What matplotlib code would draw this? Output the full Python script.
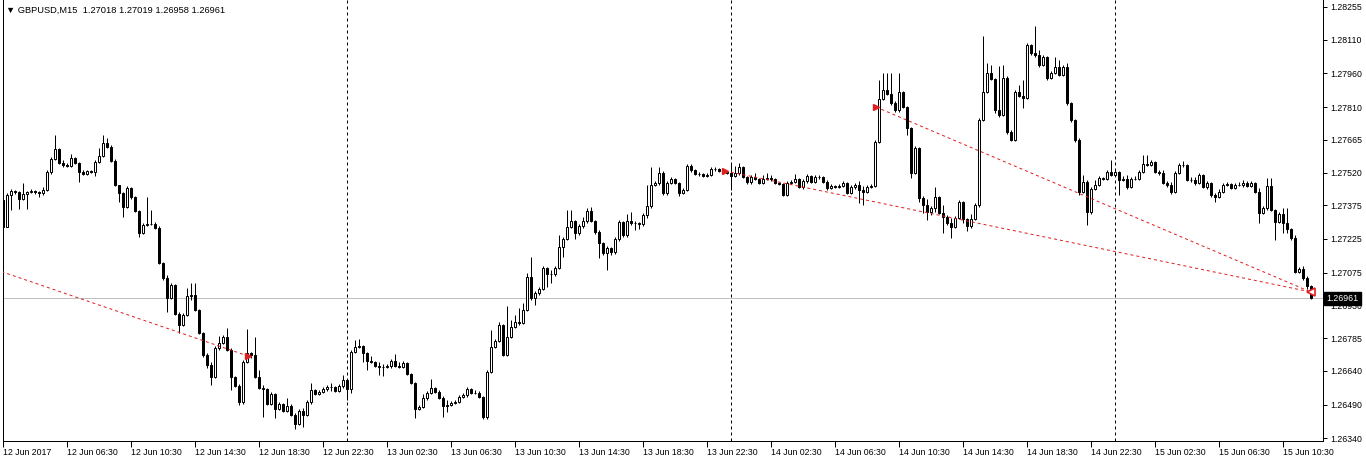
import matplotlib.pyplot as plt
import numpy as np

plt.rcParams['font.family'] = ['Liberation Sans', 'DejaVu Sans']

# GBPUSD M15, 12 Jun 2017 02:30 .. 15 Jun 2017 12:15
first_open = 1.27398
closes = [
    1.27278, 1.27420, 1.27438, 1.27433, 1.27402, 1.27424, 1.27433, 1.27438, 1.27433, 1.27429,
    1.27442, 1.27522, 1.27580, 1.27624, 1.27563, 1.27554, 1.27549, 1.27585, 1.27563, 1.27522,
    1.27513, 1.27527, 1.27522, 1.27567, 1.27594, 1.27651, 1.27633, 1.27571, 1.27465, 1.27429,
    1.27367, 1.27451, 1.27411, 1.27349, 1.27252, 1.27287, 1.27291, 1.27291, 1.27274, 1.27118,
    1.27052, 1.26963, 1.27021, 1.26892, 1.26843, 1.26887, 1.26972, 1.26976, 1.26910, 1.26808,
    1.26710, 1.26666, 1.26612, 1.26741, 1.26763, 1.26790, 1.26732, 1.26612, 1.26572, 1.26501,
    1.26679, 1.26719, 1.26710, 1.26612, 1.26563, 1.26559, 1.26492, 1.26537, 1.26470, 1.26492,
    1.26461, 1.26483, 1.26443, 1.26403, 1.26461, 1.26443, 1.26501, 1.26554, 1.26537, 1.26546,
    1.26559, 1.26568, 1.26568, 1.26550, 1.26572, 1.26599, 1.26559, 1.26723, 1.26745, 1.26750,
    1.26719, 1.26683, 1.26679, 1.26661, 1.26657, 1.26657, 1.26661, 1.26683, 1.26661, 1.26657,
    1.26674, 1.26626, 1.26586, 1.26470, 1.26479, 1.26519, 1.26541, 1.26563, 1.26546, 1.26519,
    1.26483, 1.26488, 1.26497, 1.26501, 1.26523, 1.26532, 1.26559, 1.26541, 1.26541, 1.26523,
    1.26435, 1.26635, 1.26745, 1.26772, 1.26843, 1.26710, 1.26790, 1.26834, 1.26856, 1.26852,
    1.26910, 1.27056, 1.26963, 1.26985, 1.27003, 1.27096, 1.27070, 1.27070, 1.27096, 1.27189,
    1.27225, 1.27278, 1.27305, 1.27252, 1.27282, 1.27305, 1.27349, 1.27305, 1.27256, 1.27207,
    1.27163, 1.27185, 1.27167, 1.27225, 1.27300, 1.27242, 1.27305, 1.27296, 1.27296, 1.27291,
    1.27331, 1.27371, 1.27465, 1.27474, 1.27518, 1.27429, 1.27474, 1.27491, 1.27474, 1.27429,
    1.27442, 1.27549, 1.27531, 1.27513, 1.27513, 1.27505, 1.27509, 1.27536, 1.27536, 1.27527,
    1.27522, 1.27518, 1.27505, 1.27518, 1.27545, 1.27500, 1.27478, 1.27500, 1.27491, 1.27474,
    1.27491, 1.27496, 1.27491, 1.27474, 1.27469, 1.27420, 1.27474, 1.27478, 1.27491, 1.27456,
    1.27482, 1.27505, 1.27478, 1.27500, 1.27500, 1.27478, 1.27451, 1.27460, 1.27456, 1.27460,
    1.27474, 1.27429, 1.27456, 1.27465, 1.27442, 1.27433, 1.27456, 1.27460, 1.27655, 1.27846,
    1.27886, 1.27869, 1.27829, 1.27798, 1.27878, 1.27811, 1.27718, 1.27518, 1.27629, 1.27407,
    1.27376, 1.27345, 1.27362, 1.27411, 1.27340, 1.27322, 1.27296, 1.27278, 1.27318, 1.27389,
    1.27314, 1.27282, 1.27314, 1.27376, 1.27753, 1.27878, 1.27962, 1.27935, 1.27798, 1.27775,
    1.27940, 1.27700, 1.27664, 1.27878, 1.27860, 1.27851, 1.28086, 1.28051, 1.28042, 1.27997,
    1.28033, 1.27940, 1.27962, 1.27989, 1.27953, 1.27989, 1.27829, 1.27753, 1.27664, 1.27433,
    1.27478, 1.27345, 1.27447, 1.27465, 1.27496, 1.27491, 1.27522, 1.27509, 1.27522, 1.27487,
    1.27491, 1.27456, 1.27491, 1.27491, 1.27522, 1.27558, 1.27554, 1.27567, 1.27522, 1.27518,
    1.27474, 1.27465, 1.27433, 1.27518, 1.27554, 1.27554, 1.27487, 1.27487, 1.27474, 1.27509,
    1.27456, 1.27474, 1.27420, 1.27411, 1.27433, 1.27465, 1.27469, 1.27451, 1.27465, 1.27465,
    1.27474, 1.27460, 1.27474, 1.27433, 1.27340, 1.27362, 1.27460, 1.27354, 1.27300, 1.27336,
    1.27296, 1.27269, 1.27229, 1.27078, 1.27092, 1.27052, 1.27018, 1.26961,
]
highs = [
    1.27420, 1.27429, 1.27447, 1.27442, 1.27438, 1.27474, 1.27438, 1.27447, 1.27442, 1.27438,
    1.27456, 1.27531, 1.27589, 1.27687, 1.27629, 1.27576, 1.27563, 1.27602, 1.27589, 1.27567,
    1.27531, 1.27531, 1.27531, 1.27576, 1.27629, 1.27687, 1.27673, 1.27642, 1.27580, 1.27465,
    1.27433, 1.27460, 1.27456, 1.27416, 1.27354, 1.27296, 1.27411, 1.27354, 1.27300, 1.27282,
    1.27123, 1.27065, 1.27029, 1.27025, 1.26901, 1.26896, 1.27007, 1.27029, 1.27029, 1.26914,
    1.26812, 1.26719, 1.26679, 1.26750, 1.26794, 1.26799, 1.26830, 1.26741, 1.26617, 1.26581,
    1.26688, 1.26825, 1.26723, 1.26790, 1.26643, 1.26577, 1.26563, 1.26546, 1.26541, 1.26501,
    1.26497, 1.26519, 1.26492, 1.26452, 1.26470, 1.26474, 1.26510, 1.26586, 1.26559, 1.26554,
    1.26568, 1.26577, 1.26586, 1.26572, 1.26581, 1.26621, 1.26603, 1.26732, 1.26776, 1.26781,
    1.26754, 1.26723, 1.26705, 1.26683, 1.26679, 1.26670, 1.26670, 1.26692, 1.26714, 1.26679,
    1.26683, 1.26679, 1.26630, 1.26590, 1.26488, 1.26537, 1.26550, 1.26603, 1.26568, 1.26554,
    1.26528, 1.26510, 1.26506, 1.26510, 1.26532, 1.26541, 1.26568, 1.26563, 1.26554, 1.26550,
    1.26528, 1.26643, 1.26821, 1.26781, 1.26856, 1.26848, 1.26928, 1.26865, 1.26887, 1.26919,
    1.26941, 1.27074, 1.27145, 1.26994, 1.27012, 1.27105, 1.27101, 1.27087, 1.27105, 1.27242,
    1.27234, 1.27354, 1.27354, 1.27309, 1.27291, 1.27322, 1.27362, 1.27367, 1.27309, 1.27265,
    1.27211, 1.27194, 1.27189, 1.27234, 1.27309, 1.27305, 1.27336, 1.27345, 1.27305, 1.27300,
    1.27340, 1.27465, 1.27545, 1.27483, 1.27545, 1.27527, 1.27483, 1.27500, 1.27496, 1.27478,
    1.27451, 1.27558, 1.27558, 1.27536, 1.27522, 1.27518, 1.27518, 1.27545, 1.27545, 1.27540,
    1.27531, 1.27527, 1.27558, 1.27549, 1.27563, 1.27549, 1.27505, 1.27509, 1.27518, 1.27496,
    1.27509, 1.27518, 1.27509, 1.27496, 1.27478, 1.27474, 1.27483, 1.27487, 1.27513, 1.27496,
    1.27491, 1.27513, 1.27509, 1.27509, 1.27509, 1.27505, 1.27487, 1.27469, 1.27465, 1.27469,
    1.27483, 1.27478, 1.27465, 1.27474, 1.27483, 1.27460, 1.27465, 1.27469, 1.27664, 1.27931,
    1.27962, 1.27962, 1.27962, 1.27838, 1.27962, 1.27882, 1.27815, 1.27722, 1.27638, 1.27633,
    1.27416, 1.27402, 1.27371, 1.27456, 1.27416, 1.27376, 1.27331, 1.27318, 1.27327, 1.27398,
    1.27394, 1.27318, 1.27336, 1.27385, 1.27762, 1.28126, 1.28006, 1.27997, 1.27940, 1.27993,
    1.27997, 1.27949, 1.27709, 1.27886, 1.27909, 1.27931, 1.28095, 1.28091, 1.28171, 1.28064,
    1.28042, 1.28037, 1.27971, 1.28033, 1.28020, 1.27997, 1.28006, 1.27833, 1.27758, 1.27673,
    1.27509, 1.27487, 1.27456, 1.27487, 1.27505, 1.27500, 1.27531, 1.27576, 1.27531, 1.27527,
    1.27505, 1.27509, 1.27500, 1.27505, 1.27531, 1.27598, 1.27598, 1.27576, 1.27571, 1.27531,
    1.27531, 1.27483, 1.27478, 1.27527, 1.27563, 1.27571, 1.27558, 1.27500, 1.27500, 1.27518,
    1.27513, 1.27483, 1.27478, 1.27429, 1.27447, 1.27474, 1.27478, 1.27474, 1.27474, 1.27478,
    1.27487, 1.27483, 1.27483, 1.27478, 1.27451, 1.27371, 1.27496, 1.27496, 1.27358, 1.27345,
    1.27362, 1.27362, 1.27274, 1.27242, 1.27101, 1.27105, 1.27061, 1.27019,
]
lows = [
    1.27269, 1.27278, 1.27354, 1.27424, 1.27358, 1.27398, 1.27358, 1.27429, 1.27424, 1.27411,
    1.27420, 1.27438, 1.27513, 1.27576, 1.27558, 1.27545, 1.27545, 1.27545, 1.27558, 1.27478,
    1.27509, 1.27509, 1.27518, 1.27505, 1.27563, 1.27589, 1.27629, 1.27567, 1.27460, 1.27389,
    1.27322, 1.27362, 1.27402, 1.27345, 1.27234, 1.27247, 1.27282, 1.27287, 1.27269, 1.27114,
    1.27043, 1.26901, 1.26958, 1.26887, 1.26808, 1.26839, 1.26883, 1.26954, 1.26905, 1.26803,
    1.26701, 1.26652, 1.26577, 1.26608, 1.26732, 1.26759, 1.26728, 1.26554, 1.26568, 1.26488,
    1.26492, 1.26674, 1.26697, 1.26608, 1.26559, 1.26435, 1.26488, 1.26488, 1.26430, 1.26466,
    1.26457, 1.26457, 1.26439, 1.26381, 1.26399, 1.26390, 1.26439, 1.26492, 1.26532, 1.26532,
    1.26541, 1.26550, 1.26550, 1.26546, 1.26546, 1.26563, 1.26510, 1.26541, 1.26719, 1.26741,
    1.26679, 1.26643, 1.26674, 1.26657, 1.26621, 1.26617, 1.26652, 1.26652, 1.26657, 1.26652,
    1.26652, 1.26621, 1.26581, 1.26430, 1.26466, 1.26474, 1.26510, 1.26537, 1.26541, 1.26514,
    1.26435, 1.26457, 1.26483, 1.26492, 1.26497, 1.26519, 1.26523, 1.26537, 1.26537, 1.26519,
    1.26426, 1.26426, 1.26630, 1.26741, 1.26768, 1.26705, 1.26705, 1.26785, 1.26830, 1.26843,
    1.26848, 1.26905, 1.26954, 1.26932, 1.26976, 1.26998, 1.27012, 1.27029, 1.27061, 1.27092,
    1.27145, 1.27220, 1.27274, 1.27225, 1.27242, 1.27274, 1.27296, 1.27300, 1.27247, 1.27140,
    1.27154, 1.27087, 1.27154, 1.27158, 1.27216, 1.27234, 1.27234, 1.27287, 1.27265, 1.27269,
    1.27282, 1.27318, 1.27362, 1.27460, 1.27465, 1.27420, 1.27420, 1.27469, 1.27469, 1.27416,
    1.27424, 1.27438, 1.27522, 1.27509, 1.27505, 1.27500, 1.27500, 1.27505, 1.27527, 1.27522,
    1.27513, 1.27513, 1.27442, 1.27500, 1.27509, 1.27496, 1.27469, 1.27469, 1.27487, 1.27469,
    1.27469, 1.27487, 1.27482, 1.27469, 1.27465, 1.27416, 1.27416, 1.27469, 1.27474, 1.27451,
    1.27447, 1.27474, 1.27474, 1.27474, 1.27491, 1.27474, 1.27442, 1.27447, 1.27451, 1.27451,
    1.27456, 1.27424, 1.27424, 1.27447, 1.27385, 1.27376, 1.27429, 1.27451, 1.27456, 1.27651,
    1.27842, 1.27864, 1.27820, 1.27789, 1.27789, 1.27806, 1.27687, 1.27496, 1.27513, 1.27389,
    1.27340, 1.27309, 1.27331, 1.27345, 1.27336, 1.27252, 1.27287, 1.27229, 1.27274, 1.27314,
    1.27296, 1.27260, 1.27274, 1.27309, 1.27367, 1.27749, 1.27873, 1.27931, 1.27784, 1.27766,
    1.27771, 1.27691, 1.27660, 1.27660, 1.27855, 1.27806, 1.27846, 1.28042, 1.28033, 1.27989,
    1.27993, 1.27931, 1.27935, 1.27957, 1.27949, 1.27949, 1.27820, 1.27744, 1.27655, 1.27420,
    1.27429, 1.27287, 1.27336, 1.27442, 1.27460, 1.27487, 1.27487, 1.27505, 1.27505, 1.27420,
    1.27482, 1.27447, 1.27451, 1.27487, 1.27487, 1.27518, 1.27549, 1.27549, 1.27518, 1.27509,
    1.27469, 1.27456, 1.27424, 1.27429, 1.27513, 1.27545, 1.27482, 1.27478, 1.27465, 1.27469,
    1.27451, 1.27447, 1.27411, 1.27389, 1.27407, 1.27429, 1.27460, 1.27447, 1.27447, 1.27460,
    1.27456, 1.27456, 1.27456, 1.27429, 1.27296, 1.27336, 1.27354, 1.27349, 1.27220, 1.27296,
    1.27252, 1.27252, 1.27220, 1.27074, 1.27074, 1.27043, 1.27003, 1.26958,
]

time_labels = [
    "12 Jun 2017", "12 Jun 06:30", "12 Jun 10:30", "12 Jun 14:30", "12 Jun 18:30",
    "12 Jun 22:30", "13 Jun 02:30", "13 Jun 06:30", "13 Jun 10:30", "13 Jun 14:30",
    "13 Jun 18:30", "13 Jun 22:30", "14 Jun 02:30", "14 Jun 06:30", "14 Jun 10:30",
    "14 Jun 14:30", "14 Jun 18:30", "14 Jun 22:30", "15 Jun 02:30", "15 Jun 06:30",
    "15 Jun 10:30",
]
price_ticks = [1.28255, 1.28110, 1.27960, 1.27810, 1.27665, 1.27520, 1.27375,
               1.27225, 1.27075, 1.26930, 1.26785, 1.26640, 1.26490, 1.26340]
bid = 1.26961
day_breaks = [86, 182, 278]          # bar index of 00:00
arrow_bars = [61.25, 180.5, 218.25]
arrow_prices = [1.26705, 1.27527, 1.27811]
end_arrow = (327, 1.26990)
line1_x, line1_y = [-0.5, 61.25], [1.27080, 1.26705]
line2_x, line2_y = [180.5, 327], [1.27527, 1.26990]
line3_x, line3_y = [218.25, 327], [1.27811, 1.26990]

closes = np.array(closes)
opens = np.concatenate([[first_open], closes[:-1]])
highs = np.maximum(np.array(highs), np.maximum(opens, closes))
lows = np.minimum(np.array(lows), np.minimum(opens, closes))
x = np.arange(len(closes))

W, H = 1366, 463
fig = plt.figure(figsize=(W / 100, H / 100), dpi=100)
ax = fig.add_axes([2.5 / W, 1 - 441 / H, (1323 - 2.5) / W, 441 / H])

lw = 0.72
ax.axhline(bid, color='#c0c0c0', lw=lw, zorder=1)
for b in day_breaks:
    ax.axvline(b, color='black', lw=lw, ls=(0, (3, 3)), zorder=1)

ax.vlines(x, lows, highs, color='black', lw=lw, zorder=2)
colors = np.where(closes > opens, 'white', 'black')
ax.bar(x, closes - opens, bottom=opens, width=0.5, color=colors,
       edgecolor='black', linewidth=lw, zorder=3)

red = '#e02020'
for lx, ly in [(line1_x, line1_y), (line2_x, line2_y), (line3_x, line3_y)]:
    ax.plot(lx, ly, color=red, lw=lw, ls=(0, (3, 3)), zorder=4)
ax.plot(arrow_bars, arrow_prices, ls='none', marker='>', ms=5, color=red, zorder=5)
ax.plot([end_arrow[0]], [end_arrow[1]], ls='none', marker='<', ms=6,
        mfc='white', mec=red, mew=1.2, zorder=5)

ax.set_xlim(-0.25, 330.1)
ax.set_ylim(1.26328, 1.28286)

ax.set_xticks(x[::16])
ax.set_xticklabels(time_labels, ha='left', fontsize=6.3)
ax.tick_params(axis='x', direction='out', length=4, width=lw, pad=1)
ax.yaxis.tick_right()
ax.set_yticks(price_ticks)
ax.set_yticklabels([f"{p:.5f}" for p in price_ticks], fontsize=6.3)
ax.tick_params(axis='y', direction='out', length=3, width=lw, pad=2)
ax.spines['top'].set_visible(False)
for s in ['left', 'right', 'bottom']:
    ax.spines[s].set_linewidth(lw)

ax.text(1.0025, bid, f"{bid:.5f}", transform=ax.get_yaxis_transform(),
        color='white', fontsize=6.3, ha='left', va='center', zorder=10,
        bbox=dict(boxstyle='square,pad=0.25', fc='black', ec='black'), clip_on=False)

fig.text(6 / W, 1 - 10 / H,
         f"\u25bc GBPUSD,M15  {opens[-1]:.5f} {highs[-1]:.5f} {lows[-1]:.5f} {closes[-1]:.5f}",
         fontsize=6.7, va='center', ha='left')

fig.savefig('out.png', dpi=100)
